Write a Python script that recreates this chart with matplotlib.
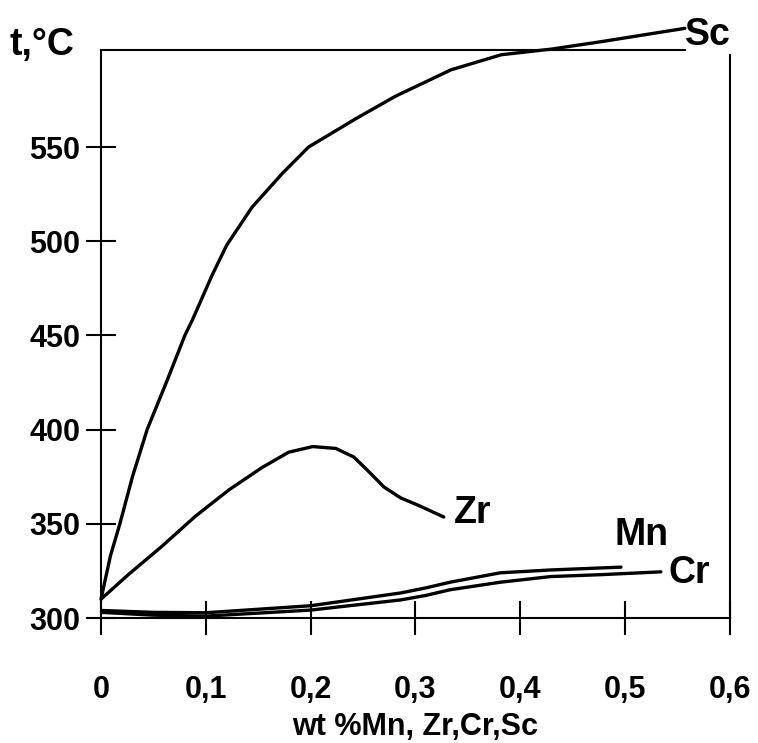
import matplotlib
matplotlib.use('Agg')
import matplotlib.pyplot as plt

plt.rcParams['font.family'] = ['Liberation Sans', 'DejaVu Sans']
plt.rcParams['font.weight'] = 'bold'

# Кривые температуры рекристаллизации в зависимости от добавки
sc_x = [0, 0.009, 0.018, 0.030, 0.044, 0.063, 0.080, 0.087, 0.106, 0.120,
        0.144, 0.173, 0.198, 0.243, 0.281, 0.334, 0.382, 0.43, 0.478, 0.557]
sc_t = [310, 333, 350, 375, 400, 426, 450, 458, 482, 498,
        518, 536, 550, 565, 577, 591, 599, 602, 606, 613]

zr_x = [0, 0.026, 0.058, 0.090, 0.122, 0.154, 0.179, 0.202, 0.224, 0.241,
        0.254, 0.270, 0.286, 0.302, 0.327]
zr_t = [310, 323, 338, 354, 368, 380, 388, 391, 390, 385.5,
        378.5, 369.5, 363.7, 360, 353.6]

mn_x = [0, 0.05, 0.1, 0.2, 0.286, 0.31, 0.333, 0.381, 0.429, 0.496]
mn_t = [304, 303, 302.8, 306.5, 313.3, 316, 319, 324, 325.5, 327]

cr_x = [0, 0.05, 0.1, 0.2, 0.286, 0.31, 0.333, 0.381, 0.429, 0.477, 0.534]
cr_t = [303, 301.5, 301, 304.2, 309.6, 312, 315, 319, 322, 323, 324.5]

xticks = [0, 0.1, 0.2, 0.3, 0.4, 0.5, 0.6]
xticklabels = ['0', '0,1', '0,2', '0,3', '0,4', '0,5', '0,6']
yticks = [300, 350, 400, 450, 500, 550]

fig = plt.figure(figsize=(7.58, 7.43), dpi=100)
ax = fig.add_axes([101 / 758, 125 / 743, 629 / 758, 568 / 743])
ax.set_xlim(0, 0.6)
ax.set_ylim(300, 601.5)

lw = 2.4
kw = dict(color='black', lw=lw, solid_capstyle='round', solid_joinstyle='round')
ax.plot(sc_x, sc_t, clip_on=False, **kw)
ax.plot(zr_x, zr_t, **kw)
ax.plot(mn_x, mn_t, **kw)
ax.plot(cr_x, cr_t, **kw)

# верхняя линия на 600 °C
ax.plot([0, 0.557], [601.5, 601.5], color='black', lw=1.5, clip_on=False)

ax.spines['top'].set_visible(False)
for s in ['left', 'bottom', 'right']:
    ax.spines[s].set_linewidth(1.5)
ax.spines['right'].set_bounds(300, 599)

ax.set_xticks(xticks)
ax.set_xticklabels(xticklabels)
ax.set_yticks(yticks)
ax.tick_params(axis='x', direction='inout', length=24, width=1.5,
               labelsize=22, pad=29)
ax.tick_params(axis='y', direction='inout', length=22, width=1.5,
               labelsize=22, pad=4)

ax.set_xlabel('wt %Mn, Zr,Cr,Sc', fontsize=22, fontweight='bold', labelpad=5)

lab = dict(fontsize=27, fontweight='bold', ha='center', va='center')
ax.text(0.579, 609.5, 'Sc', clip_on=False, **lab)
ax.text(0.355, 356, 'Zr', **lab)
ax.text(0.516, 344, 'Mn', **lab)
ax.text(0.561, 324, 'Cr', **lab)
ax.text(-0.056, 604, 't,°C', clip_on=False, **lab)

fig.savefig('out.png', dpi=100)
